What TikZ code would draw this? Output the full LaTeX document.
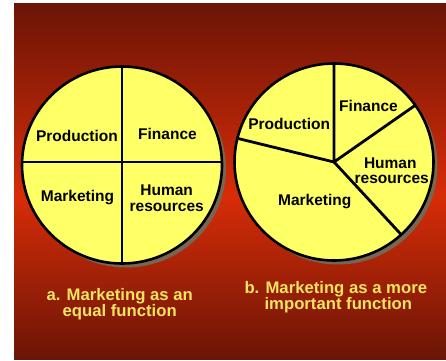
\documentclass[tikz,border=0pt]{standalone}
\usepackage{fontspec}
\setmainfont{Liberation Sans}
\usetikzlibrary{calc}
\definecolor{bgdark}{HTML}{6A1506}
\definecolor{bgbright}{HTML}{D82C08}
\definecolor{pieyellow}{HTML}{FFFF66}
\definecolor{pieshadow}{HTML}{776650}
\definecolor{capyellow}{HTML}{F4E45E}
\tikzset{
  lbl/.style={font=\fontsize{15.5}{17}\selectfont\bfseries, text=black, anchor=base, inner sep=0pt},
  capt/.style={font=\fontsize{16.7}{18}\selectfont\bfseries, text=capyellow, anchor=base, inner sep=0pt},
  piefill/.style={fill=pieyellow, draw=black, line width=2.6pt},
  pieshad/.style={fill=pieshadow},
  divider/.style={draw=black, line width=2.8pt}
}
\begin{document}
\begin{tikzpicture}[x=1pt,y=-1pt]
\useasboundingbox (0,0) rectangle (446,360);
% background
\fill[top color=bgdark, bottom color=bgbright] (14,3) rectangle (446,196);
\fill[top color=bgbright, bottom color=bgdark] (14,195.5) rectangle (446,359);

% ---- pie a ----
\coordinate (ac) at (122,165);
\fill[pieshad] (126,169) ellipse [x radius=100pt, y radius=98.5pt];
\path[piefill] (ac) ellipse [x radius=100pt, y radius=98.5pt];
\coordinate (aL) at (22.5,162);
\coordinate (aR) at (221.5,162);
\coordinate (aT) at (122,67.5);
\coordinate (aB) at (122,262.5);
\draw[divider] (aL) -- (aR);
\draw[divider] (aT) -- (aB);
\node[lbl] (aprod) at (77,141) {Production};
\node[lbl] (afin) at (167.5,139.5) {Finance};
\node[lbl] (amkt) at (77.5,201.5) {Marketing};
\node[lbl] (ahum) at (166.7,195) {Human};
\node[lbl] (ares) at (166.7,211.5) {resources};

% ---- pie b ----
\coordinate (bc) at (334,162);
\fill[pieshad] (338,166) ellipse [x radius=99.5pt, y radius=98.5pt];
\path[piefill] (bc) ellipse [x radius=99.5pt, y radius=98.5pt];
\coordinate (bT) at ($(bc)+(90:99.5pt and 97.5pt)$);
\coordinate (bF) at ($(bc)+(35.2:98.5pt and 97.5pt)$);
\coordinate (bH) at ($(bc)+(-47.5:98.5pt and 97.5pt)$);
\coordinate (bP) at ($(bc)+(166.1:98.5pt and 97.5pt)$);
\draw[divider, line join=round] (bT) -- (bc) -- (bF);
\draw[divider, line join=round] (bH) -- (bc) -- (bP);
\node[lbl] (bprod) at (289.2,129.5) {Production};
\node[lbl] (bfin) at (368.5,111.3) {Finance};
\node[lbl] (bhum) at (390.3,168) {Human};
\node[lbl] (bres) at (391.7,183.3) {resources};
\node[lbl] (bmkt) at (314.7,205.5) {Marketing};

% ---- captions ----
\node[capt] (capa1) at (119.7,300.5) {a. Marketing as an};
\node[capt] (capa2) at (119.7,316.7) {equal function};
\node[capt] (capb1) at (335.8,293.3) {b. Marketing as a more};
\node[capt] (capb2) at (338.3,309.3) {important function};
\end{tikzpicture}
\end{document}
